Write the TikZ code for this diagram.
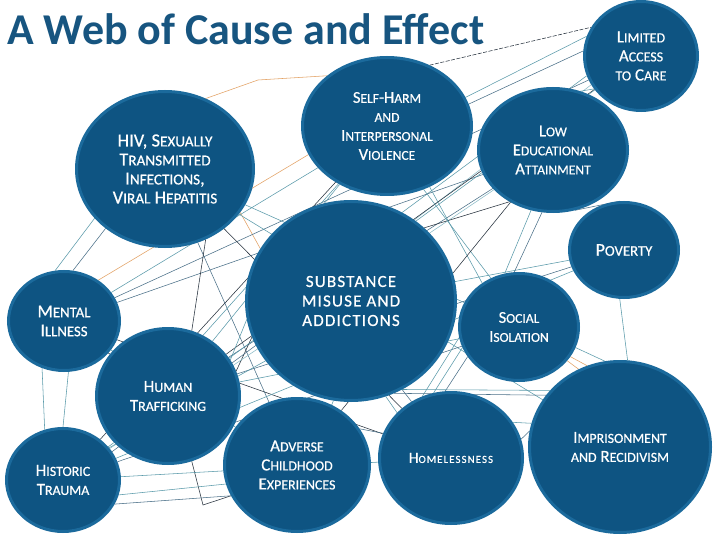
\documentclass[tikz,border=0pt]{standalone}
\usepackage{fontspec}
\setmainfont{Carlito}[FakeBold=0.6]
\newfontfamily\labfont[FakeBold=0.6]{Carlito}
\newfontfamily\kapfont[Scale=0.82,FakeBold=0.6]{Carlito}
\newfontfamily\homfont[Scale=0.7,LetterSpace=10,FakeBold=0.5]{Carlito}
\newfontfamily\spacedfont[LetterSpace=7,FakeBold=0.6]{Carlito}
\newfontfamily\titlefont{Carlito Bold}
\usetikzlibrary{shapes.geometric}
\newcommand\kap[1]{{\kapfont #1}}
\definecolor{circfill}{HTML}{0E5482}
\definecolor{circedge}{HTML}{1B6A9C}
\definecolor{titleblue}{HTML}{175580}
\definecolor{wteal}{HTML}{5A9AAA}
\definecolor{wslate}{HTML}{4A7088}
\definecolor{wdark}{HTML}{27323E}
\definecolor{worange}{HTML}{E3A265}
\definecolor{wlight}{HTML}{8CBCC8}
\pgfdeclarelayer{paper}
\pgfdeclarelayer{web}
\pgfsetlayers{paper,web,main}
\begin{document}
\begin{tikzpicture}[x=1pt,y=-1pt,
  bubble/.style={ellipse, fill=circfill, draw=circedge, line width=3pt, inner sep=0pt, text=white, align=center},
  lab/.style={font={\fontsize{#1}{19}\selectfont\labfont}},
  dims/.style 2 args={minimum width=#1pt, minimum height=#2pt},
  wl/.style={line width=0.55pt, draw=#1}]
\begin{pgfonlayer}{paper}
\fill[white] (0,0) rectangle (720,540);
\end{pgfonlayer}
\useasboundingbox (0,0) rectangle (720,540);

\node[anchor=base west, inner sep=0pt, text=titleblue, font={\fontsize{44}{50}\selectfont\titlefont}] (title) at (7,45) {A Web of Cause and Effect};

\node[bubble, dims={177}{155}, lab=18.5] (hiv) at (165,169) {HIV, S\kap{EXUALLY}\\T\kap{RANSMITTED}\\I\kap{NFECTIONS},\\V\kap{IRAL} H\kap{EPATITIS}};
\node[bubble, dims={169}{137}, lab=16.5] (sh) at (387,126) {S\kap{ELF}-H\kap{ARM}\\\kap{AND}\\I\kap{NTERPERSONAL}\\V\kap{IOLENCE}};
\node[bubble, dims={113}{109}, lab=17] (lim) at (641,56) {L\kap{IMITED}\\A\kap{CCESS}\\\kap{TO} C\kap{ARE}};
\node[bubble, dims={149}{123}, lab=16.5] (low) at (553,150) {L\kap{OW}\\E\kap{DUCATIONAL}\\A\kap{TTAINMENT}};
\node[bubble, dims={109}{95}, lab=18] (pov) at (624,250) {P\kap{OVERTY}};
\node[bubble, dims={209}{199}, font={\fontsize{17}{19.5}\selectfont\spacedfont}] (sub) at (351,301) {SUBSTANCE\\MISUSE AND\\ADDICTIONS};
\node[bubble, dims={111}{99}, lab=18] (men) at (64,321) {M\kap{ENTAL}\\I\kap{LLNESS}};
\node[bubble, dims={143}{135}, lab=17] (hum) at (168,396) {H\kap{UMAN}\\T\kap{RAFFICKING}};
\node[bubble, dims={113}{103}, lab=17] (his) at (63,480) {H\kap{ISTORIC}\\T\kap{RAUMA}};
\node[bubble, dims={145}{133}, lab=17] (adv) at (297,465) {A\kap{DVERSE}\\C\kap{HILDHOOD}\\E\kap{XPERIENCES}};
\node[bubble, dims={119}{107}, lab=16.5] (soc) at (519,327) {S\kap{OCIAL}\\I\kap{SOLATION}};
\node[bubble, dims={143}{131}, lab=15.5] (hom) at (451,458) {H{\homfont OMELESSNESS}};
\node[bubble, dims={181}{171}, lab=17] (imp) at (620,447) {I\kap{MPRISONMENT}\\\kap{AND} R\kap{ECIDIVISM}};

\coordinate (o1) at (258,80);
\coordinate (v1) at (203,505);

\begin{pgfonlayer}{web}
% top
\draw[wl=wdark, dash pattern=on 4pt off 1.5pt] (sh.55) -- (lim.150);
\draw[wl=wteal] (sh.20) -- (lim.160);
\draw[wl=wslate] (sh.15) -- (lim.175);
\draw[wl=wteal] (sub.60) -- (lim.200);
\draw[wl=wlight] (sub.52) -- (lim.210);
\draw[wl=wteal] (low.140) -- (lim.215);
\draw[wl=wslate] (low.290) -- (pov.95);
% orange
\draw[wl=worange] (hiv.60) -- (o1) -- (sh.140);
\draw[wl=worange] (men.50) -- (sh.200);
\draw[wl=worange] (hiv.330) -- (sub.150);
\draw[wl=worange] (soc.325) -- (imp.118);
\draw[wl=worange] (soc.330) -- (imp.112);
% left
\draw[wl=wteal] (hiv.215) -- (men.100);
\draw[wl=wslate] (hiv.225) -- (men.80);
\draw[wl=wteal] (men.245) -- (his.110);
\draw[wl=wteal] (men.275) -- (his.90);
\draw[wl=wdark] (men) -- (hum);
\draw[wl=wteal] (men) -- (sh);
\draw[wl=wslate] (men) -- (lim);
\draw[wl=wslate] (men) -- (low);
\draw[wl=wteal] (men) -- (adv);
\draw[wl=wdark] (men) -- (hom);
% hiv
\draw[wl=wdark] (hiv) -- (hom);
\draw[wl=wteal] (hiv) -- (imp);
\draw[wl=wslate] (hiv) -- (adv);
\draw[wl=wteal] (hiv) -- (soc);
\draw[wl=wdark] (hiv.300) -- (hum.70);
% human
\draw[wl=wteal] (hum) -- (sh);
\draw[wl=wteal] (hum.60) -- (sh.230);
\draw[wl=wslate] (hum) -- (low);
\draw[wl=wdark] (hum) -- (lim);
\draw[wl=wslate] (hum) -- (pov);
\draw[wl=wteal] (hum) -- (soc);
\draw[wl=wdark] (hum.20) -- (sub.200);
\draw[wl=wteal] (hum.30) -- (sub.190);
\draw[wl=wdark] (hum.290) -- (v1) -- (adv.205);
% historic
\draw[wl=wteal] (his) -- (pov);
\draw[wl=wslate] (his) -- (soc);
\draw[wl=wlight] (his) -- (low);
\draw[wl=wteal] (his) -- (lim);
\draw[wl=wdark] (his) -- (sh);
\draw[wl=wteal] (his.345) -- (adv.195);
\draw[wl=wslate] (his.335) -- (adv.205);
\draw[wl=wteal] (his) -- (hom);
\draw[wl=wslate] (his.30) -- (sub.205);
\draw[wl=wteal] (his.35) -- (sub.215);
% centre right
\draw[wl=wteal] (sub) -- (pov);
\draw[wl=wdark] (low.230) -- (sub.45);
\draw[wl=wteal] (low.250) -- (soc.105);
\draw[wl=wslate] (low.260) -- (soc.95);
\draw[wl=wteal] (sh.305) -- (soc.130);
\draw[wl=wteal] (sh.300) -- (soc.120);
\draw[wl=wdark] (low) -- (adv);
\draw[wl=wteal] (soc.200) -- (hom.105);
\draw[wl=wslate] (soc.210) -- (hom.95);
\draw[wl=wteal] (soc.190) -- (hom.115);
\draw[wl=wteal] (sub.290) -- (hom.140);
\draw[wl=wslate] (sub.300) -- (hom.125);
\draw[wl=wteal] (sub.300) -- (imp.141);
\draw[wl=wslate] (sub.295) -- (imp.145);
\draw[wl=wteal] (hom.30) -- (imp.165);
\draw[wl=wslate] (hom.15) -- (imp.170);
\draw[wl=wteal] (soc.340) -- (imp.100);
\draw[wl=wteal] (pov.265) -- (imp.85);
\draw[wl=wteal] (adv.60) -- (sub.260);
\draw[wl=wslate] (adv.30) -- (hom.160);
\end{pgfonlayer}
\end{tikzpicture}
\end{document}
